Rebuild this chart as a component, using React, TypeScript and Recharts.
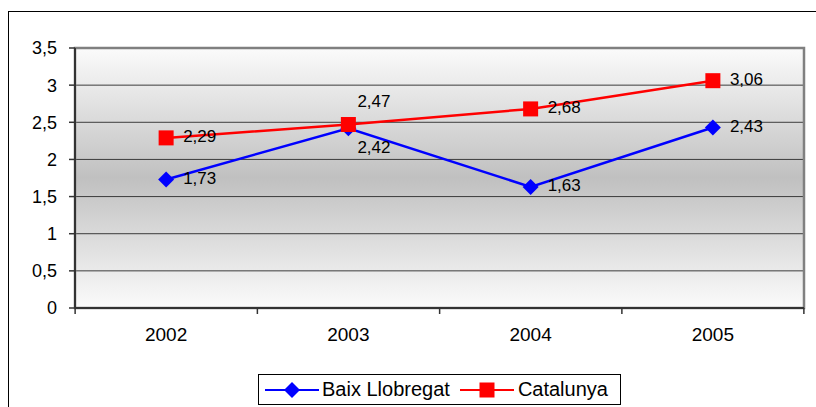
import { LineChart, Line, XAxis, YAxis, CartesianGrid, ReferenceArea, LabelList, Legend } from "recharts";

const years = ["2002", "2003", "2004", "2005"];
const baixLlobregat = [1.73, 2.42, 1.63, 2.43];
const catalunya = [2.29, 2.47, 2.68, 3.06];
const yTicks = [0, 0.5, 1, 1.5, 2, 2.5, 3, 3.5];

const data = years.map((year, i) => ({
  year,
  baix: baixLlobregat[i],
  cat: catalunya[i],
}));

const FONT = "'Liberation Sans', Arial, sans-serif";
const HALF_BAND = 91;

const fmt = (v: number) => String(v).replace(".", ",");

function Diamond({ cx, cy }: any) {
  if (cx == null || cy == null) return null;
  const r = 8;
  return <polygon points={`${cx},${cy - r} ${cx + r},${cy} ${cx},${cy + r} ${cx - r},${cy}`} fill="#0000ff" />;
}

function Square({ cx, cy }: any) {
  if (cx == null || cy == null) return null;
  const s = 7.5;
  return <rect x={cx - s} y={cy - s} width={s * 2} height={s * 2} fill="#ff0000" />;
}

function XTick({ x, y, payload, index, visibleTicksCount }: any) {
  const last = index === visibleTicksCount - 1;
  return (
    <g>
      <line x1={x - HALF_BAND} y1={y} x2={x - HALF_BAND} y2={y + 6} stroke="#333" strokeWidth={1.5} />
      {last && <line x1={x + HALF_BAND} y1={y} x2={x + HALF_BAND} y2={y + 6} stroke="#333" strokeWidth={1.5} />}
      <text x={x} y={y + 26} textAnchor="middle" dominantBaseline="central" fontSize={19} fill="#000" fontFamily={FONT}>
        {payload.value}
      </text>
    </g>
  );
}

// 2003 labels sit above/below the crossing point, the rest sit to the right
const makeLabel = (series: "baix" | "cat") => (props: any) => {
  const { x, y, value, index } = props;
  let dx = 17;
  let dy = -1;
  if (index === 1) {
    dx = 9;
    dy = series === "cat" ? -23 : 19;
  }
  return (
    <text x={x + dx} y={y + dy} textAnchor="start" dominantBaseline="central" fontSize={17} fill="#000" fontFamily={FONT}>
      {fmt(value)}
    </text>
  );
};

function LegendBox() {
  return (
    <div
      style={{
        display: "flex",
        alignItems: "center",
        height: 31,
        border: "1px solid #000",
        background: "#fff",
        fontFamily: FONT,
        fontSize: 20,
        color: "#000",
        paddingLeft: 6,
        boxSizing: "border-box",
      }}
    >
      <svg width={54} height={18}>
        <line x1={0} y1={9} x2={54} y2={9} stroke="#0000ff" strokeWidth={2} />
        <polygon points="27,1 35,9 27,17 19,9" fill="#0000ff" />
      </svg>
      <span style={{ marginLeft: 3 }}>Baix Llobregat</span>
      <svg width={54} height={18} style={{ marginLeft: 10 }}>
        <line x1={0} y1={9} x2={54} y2={9} stroke="#ff0000" strokeWidth={2} />
        <rect x={19.5} y={1.5} width={15} height={15} fill="#ff0000" />
      </svg>
      <span style={{ marginLeft: 4 }}>Catalunya</span>
    </div>
  );
}

export default function App() {
  return (
    <div style={{ position: "absolute", left: 0, top: 0, width: 816, height: 407, overflow: "hidden", background: "#fff", fontFamily: FONT }}>
      <div
        style={{
          position: "absolute",
          left: 8,
          top: 11,
          width: 808,
          height: 396,
          borderLeft: "1px solid #000",
          borderTop: "1px solid #000",
          boxSizing: "border-box",
        }}
      />
      <div style={{ position: "absolute", left: 0, top: 0 }}>
        <LineChart width={816} height={407} data={data} margin={{ top: 48, right: 12, left: 0, bottom: 59 }}>
          <defs>
            <linearGradient id="plotBg" x1="0" y1="0" x2="0" y2="1">
              <stop offset="0%" stopColor="#fbfbfb" />
              <stop offset="50%" stopColor="#c0c0c0" />
              <stop offset="100%" stopColor="#fbfbfb" />
            </linearGradient>
          </defs>
          <CartesianGrid vertical={false} stroke="#3c3c3c" strokeWidth={1} fill="url(#plotBg)" fillOpacity={1} />
          <ReferenceArea y1={0} y2={3.5} fill="none" stroke="#808080" strokeWidth={2.5} ifOverflow="visible" />
          <XAxis
            dataKey="year"
            scale="band"
            height={40}
            tickLine={false}
            tickSize={0}
            tickMargin={0}
            axisLine={{ stroke: "#333", strokeWidth: 2 }}
            tick={<XTick />}
            interval={0}
          />
          <YAxis
            width={75}
            domain={[0, 3.5]}
            ticks={yTicks}
            interval={0}
            tickSize={6}
            tickMargin={12}
            tickFormatter={fmt}
            axisLine={{ stroke: "#333", strokeWidth: 2 }}
            tickLine={{ stroke: "#333", strokeWidth: 1.5 }}
            tick={{ fontSize: 18, fill: "#000", fontFamily: FONT }}
          />
          <Legend
            verticalAlign="middle"
            layout="horizontal"
            content={<LegendBox />}
            wrapperStyle={{ left: 258, top: 374, width: 363, height: 32 }}
          />
          <Line
            type="linear"
            dataKey="baix"
            name="Baix Llobregat"
            stroke="#0000ff"
            strokeWidth={2.5}
            dot={<Diamond />}
            activeDot={false}
            isAnimationActive={false}
          >
            <LabelList dataKey="baix" content={makeLabel("baix")} />
          </Line>
          <Line
            type="linear"
            dataKey="cat"
            name="Catalunya"
            stroke="#ff0000"
            strokeWidth={2.5}
            dot={<Square />}
            activeDot={false}
            isAnimationActive={false}
          >
            <LabelList dataKey="cat" content={makeLabel("cat")} />
          </Line>
        </LineChart>
      </div>
    </div>
  );
}
